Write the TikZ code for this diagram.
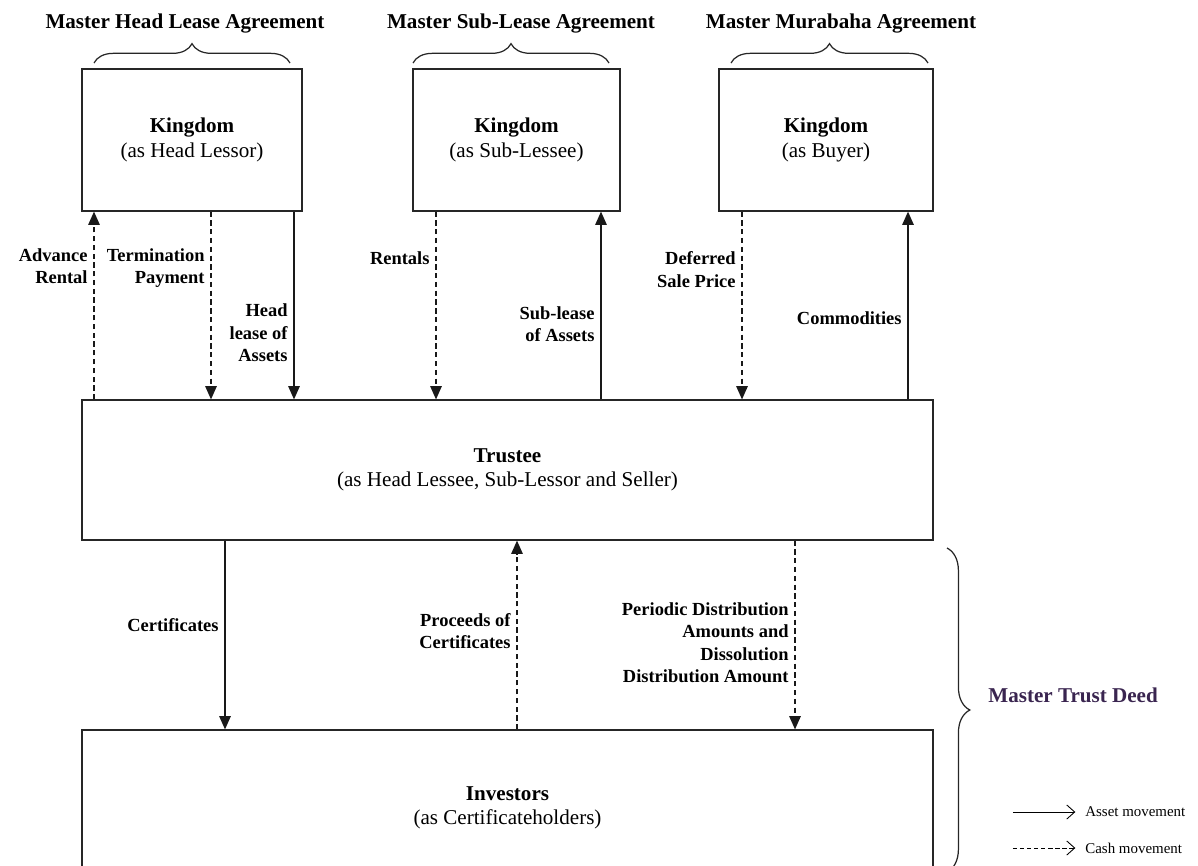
\documentclass[tikz,border=0pt]{standalone}
\usepackage{fontspec}
\setmainfont{Liberation Serif}
\usetikzlibrary{arrows.meta,positioning,calc,decorations.pathreplacing}
\definecolor{deedpurple}{HTML}{3A2550}

\begin{document}
\begin{tikzpicture}[x=0.2mm, y=-0.2mm,
    box/.style={draw=black!85, line width=0.7pt, align=center, font=\fontsize{12}{14}\selectfont},
    asset/.style={draw=black!90, line width=0.7pt, -{Triangle[length=7.5pt,width=6.5pt]}},
    cash/.style={asset, dash pattern=on 3pt off 2pt},
    lbl/.style={left, align=right, font=\fontsize{10.5}{12.8}\selectfont\bfseries},
    ttl/.style={font=\fontsize{12}{14}\selectfont\bfseries},
    brc/.style={decorate, draw=black!85, line width=0.7pt, decoration={brace, amplitude=#1}},
    brc/.default=11pt]
            \clip (0,0) rectangle (1198,865);
            % agreements
            \node[ttl] (HLtitle) at (185,24) {Master Head Lease Agreement};
            \node[ttl] (SLtitle) at (521,24) {Master Sub-Lease Agreement};
            \node[ttl] (MUtitle) at (841,24) {Master Murabaha Agreement};
            \draw[brc] (94,63) -- (290,63);
            \draw[brc] (413,63) -- (609,63);
            \draw[brc] (731,63) -- (928,63);
            % parties
            \node[box, minimum width=4.4cm, minimum height=2.84cm] (HL) at (192,140) {\textbf{Kingdom}\\(as Head Lessor)};
            \node[box, minimum width=4.14cm, minimum height=2.84cm] (SL) at (516.5,140) {\textbf{Kingdom}\\(as Sub-Lessee)};
            \node[box, minimum width=4.28cm, minimum height=2.84cm] (MU) at (826,140) {\textbf{Kingdom}\\(as Buyer)};
            \node[box, minimum width=17.02cm, minimum height=2.8cm] (TR) at (507.5,470) {\textbf{Trustee}\\(as Head Lessee, Sub-Lessor and Seller)};
            \node[box, minimum width=17.02cm, minimum height=3.12cm] (IN) at (507.5,808) {\textbf{Investors}\\(as Certificateholders)};
            % flows with the kingdom
            \draw[cash] (TR.north -| 94,0) -- (HL.south -| 94,0) node[lbl, pos=0.71] {Advance\\Rental};
            \draw[cash] (HL.south -| 211,0) -- (TR.north -| 211,0) node[lbl, pos=0.30] {Termination\\Payment};
            \draw[asset] (HL.south -| 294,0) -- (TR.north -| 294,0) node[lbl, pos=0.645] {Head\\lease of\\Assets};
            \draw[cash] (SL.south -| 436,0) -- (TR.north -| 436,0) node[lbl, pos=0.25] {Rentals};
            \draw[asset] (TR.north -| 601,0) -- (SL.south -| 601,0) node[lbl, pos=0.40] {Sub-lease\\of Assets};
            \draw[cash] (MU.south -| 742,0) -- (TR.north -| 742,0) node[lbl, pos=0.31] {Deferred\\Sale Price};
            \draw[asset] (TR.north -| 908,0) -- (MU.south -| 908,0) node[lbl, pos=0.43] {Commodities};
            % flows with the investors
            \draw[asset] (TR.south -| 225,0) -- (IN.north -| 225,0) node[lbl, pos=0.45] {Certificates};
            \draw[cash] (IN.north -| 517,0) -- (TR.south -| 517,0) node[lbl, pos=0.52] {Proceeds of\\Certificates};
            \draw[cash] (TR.south -| 795,0) -- (IN.north -| 795,0) node[lbl, pos=0.54] {Periodic Distribution\\Amounts and\\Dissolution\\Distribution Amount};
            % trust deed
            \draw[brc=13pt] (947,548) -- (947,872);
            \node[ttl, text=deedpurple, right, inner sep=0] (TD) at (988,695) {Master Trust Deed};
            % legend
            \node[right, inner sep=0, font=\fontsize{8.5}{10}\selectfont] (AM) at (1085,812) {Asset movement};
            \node[right, inner sep=0, font=\fontsize{8.5}{10}\selectfont] (CM) at (1085,848) {Cash movement};
            \draw[line width=0.5pt, -{Straight Barb[length=4.5pt,width=8pt]}] ([xshift=-41pt]AM.west) -- ([xshift=-5.5pt]AM.west);
            \draw[line width=0.5pt, dash pattern=on 2.5pt off 1.5pt, -{Straight Barb[length=4.5pt,width=8pt]}] ([xshift=-41pt]CM.west) -- ([xshift=-5.5pt]CM.west);
        \end{tikzpicture}
\end{document}
